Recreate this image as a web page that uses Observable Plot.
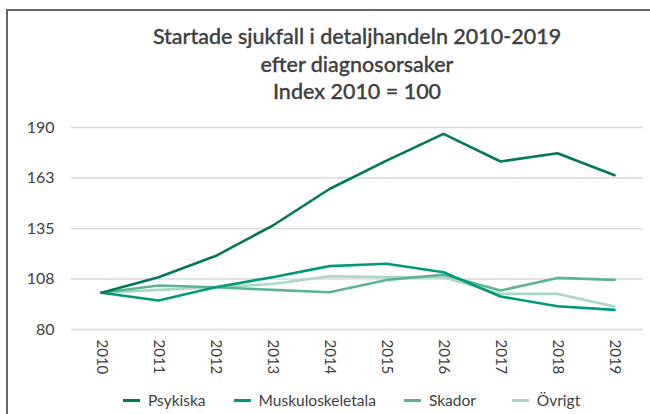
<!DOCTYPE html>
<html>
<head>
<meta charset="utf-8">
<script src="https://cdn.jsdelivr.net/npm/d3@7"></script>
<script src="https://cdn.jsdelivr.net/npm/@observablehq/plot@0.6"></script>
<style>
  html, body { margin: 0; padding: 0; background: #fff; }
  body { width: 650px; height: 414px; position: relative; overflow: hidden; font-family: Lato, "Open Sans", sans-serif; color: #404040; }
  #frame { position: absolute; left: 6px; top: 9px; width: 700px; height: 500px; border-top: 2px solid #666; border-left: 2px solid #666; z-index: 10; pointer-events: none; }
  #title { position: absolute; left: 71px; width: 572px; top: 23px; text-align: center; font-size: 21.5px; line-height: 27.5px; font-weight: 500; color: #404040; -webkit-text-stroke: 0.3px #404040; }
  #chart { position: absolute; left: 0; top: 110px; }
  #legend { position: absolute; left: 123px; top: 391px; display: flex; font-size: 15.5px; color: #404040; }
  .item { display: flex; align-items: center; }
  .sw { width: 17px; height: 3px; margin-right: 8px; }
</style>
</head>
<body>
<div id="frame"></div>
<div id="title">Startade sjukfall i detaljhandeln 2010-2019<br>efter diagnosorsaker<br>Index 2010 = 100</div>
<div id="chart"></div>
<div id="legend"></div>
<script>
const years = ["2010","2011","2012","2013","2014","2015","2016","2017","2018","2019"];
const seriesNames = ["Psykiska", "Muskuloskeletala", "Skador", "Övrigt"];
const psykiska = [100, 108.5, 120, 136.5, 156.5, 172, 186.5, 171.5, 176, 164];
const muskuloskeletala = [100, 95.8, 103, 108.5, 114.5, 115.8, 111.2, 98, 92.7, 90.7];
const skador = [100, 104, 103, 101.6, 100.3, 107, 109.8, 101.2, 108.1, 107];
const ovrigt = [100, 101.6, 103, 104.8, 109, 108.5, 108.5, 99.4, 99.4, 92.5];
const yTickValues = [80, 107.5, 135, 162.5, 190];
const yTickLabels = ["80", "108", "135", "163", "190"];
const colors = ["#00795b", "#009a7b", "#5fb394", "#a9d8c5"];
const legendGaps = [28, 28, 36, 0];

const valuesBySeries = [psykiska, muskuloskeletala, skador, ovrigt];
const data = [];
seriesNames.forEach((s, i) => years.forEach((y, j) => data.push({series: s, year: y, value: valuesBySeries[i][j]})));

const chart = Plot.plot({
  width: 650,
  height: 275,
  marginLeft: 71,
  marginRight: 7,
  marginTop: 17,
  marginBottom: 56,
  style: {fontFamily: "Lato, 'Open Sans', sans-serif", fontSize: "16px", color: "#404040", background: "transparent"},
  x: {type: "point", domain: years, padding: 0.5, label: null},
  y: {domain: [80, 190], label: null},
  color: {domain: seriesNames, range: colors},
  marks: [
    Plot.ruleY(yTickValues, {stroke: "#d9d9d9", strokeWidth: 1.5}),
    Plot.axisY({ticks: yTickValues, tickFormat: (d) => yTickLabels[yTickValues.indexOf(d)], tickSize: 0, tickPadding: 17, fontSize: 16, label: null}),
    Plot.axisX({tickSize: 0, tickPadding: 10, tickRotate: 90, fontSize: 15, label: null}),
    Plot.line(data.slice().reverse(), {x: "year", y: "value", z: "series", stroke: "series", strokeWidth: 2.6, curve: "linear"})
  ]
});
document.getElementById("chart").appendChild(chart);

const legend = document.getElementById("legend");
seriesNames.forEach((s, i) => {
  const it = document.createElement("div");
  it.className = "item";
  it.style.marginRight = legendGaps[i] + "px";
  const sw = document.createElement("div");
  sw.className = "sw";
  sw.style.background = colors[i];
  const t = document.createElement("span");
  t.textContent = s;
  it.appendChild(sw); it.appendChild(t);
  legend.appendChild(it);
});
</script>
</body>
</html>
